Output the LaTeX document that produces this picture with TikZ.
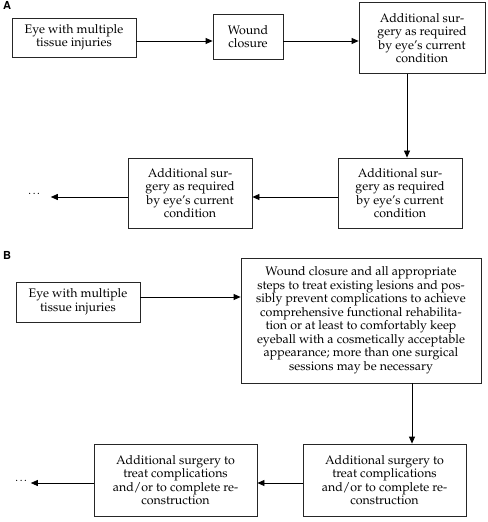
\documentclass[tikz,border=0pt]{standalone}
\usepackage[T1]{fontenc}
\usepackage{mathpazo}
\usepackage[scaled=0.92]{helvet}
\usetikzlibrary{arrows.meta}
\begin{document}
\begin{tikzpicture}[x=1bp,y=-1bp,
  box/.style={draw=black!85, line width=0.8bp, align=center, inner sep=0pt,
    font=\fontsize{12.4bp}{13.5bp}\selectfont},
  arr/.style={line width=0.8bp, -{Triangle[length=7bp,width=6bp]}},
  lab/.style={font=\sffamily\bfseries\fontsize{12bp}{12bp}\selectfont, inner sep=0pt},
  dotsn/.style={font=\fontsize{11bp}{12bp}\selectfont, inner sep=0pt}]
\useasboundingbox (0,0) rectangle (488,522);
% Panel A
\node[lab] (LA) at (7,6) {A};
\node[box, minimum width=124bp, minimum height=39bp] (A1) at (74,37.5)
  {Eye with multiple\\tissue injuries};
\node[box, minimum width=70bp, minimum height=45bp] (A2) at (248,36.5)
  {Wound\\closure};
\node[box, minimum width=126bp, minimum height=71bp] (A3) at (422,38)
  {Additional sur-\\gery as required\\by eye's current\\condition};
\node[box, minimum width=124bp, minimum height=70bp] (A4) at (400,193)
  {Additional sur-\\gery as required\\by eye's current\\condition};
\node[box, minimum width=124bp, minimum height=70bp] (A5) at (190,193)
  {Additional sur-\\gery as required\\by eye's current\\condition};
\node[dotsn] (DA) at (35,194) {\dots};
\draw[arr] ([yshift=-3.5bp]A1.east) -- ([yshift=-3.5bp]A1.east -| A2.west);
\draw[arr] ([yshift=-4.5bp]A2.east) -- ([yshift=-4.5bp]A2.east -| A3.west);
\draw[arr] ([xshift=-15bp]A3.south) -- ([xshift=-15bp]A3.south |- A4.north);
\draw[arr] ([yshift=-4bp]A4.west) -- ([yshift=-4bp]A4.west -| A5.east);
\draw[arr] ([yshift=-4bp]A5.west) -- ([yshift=-4bp,xshift=9bp]A5.west -| DA.east);
% Panel B
\node[lab] (LB) at (7,256) {B};
\node[box, minimum width=124bp, minimum height=40bp] (B1) at (78,302)
  {Eye with multiple\\tissue injuries};
\node[box, minimum width=240bp, minimum height=125bp] (B2) at (361,320.5)
  {Wound closure and all appropriate\\steps to treat existing lesions and pos-\\sibly prevent complications to achieve\\comprehensive functional rehabilita-\\tion or at least to comfortably keep\\eyeball with a cosmetically acceptable\\appearance; more than one surgical\\sessions may be necessary};
\node[box, minimum width=163bp, minimum height=72bp] (B3) at (384.5,480)
  {Additional surgery to\\treat complications\\and/or to complete re-\\construction};
\node[box, minimum width=163bp, minimum height=72bp] (B4) at (175.5,480)
  {Additional surgery to\\treat complications\\and/or to complete re-\\construction};
\node[dotsn] (DB) at (22,481) {\dots};
\draw[arr] ([yshift=5bp]B1.east) -- ([yshift=5bp]B1.east -| B2.west);
\draw[arr] ([xshift=51bp]B2.south) -- ([xshift=51bp]B2.south |- B3.north);
\draw[arr] ([yshift=-3bp]B3.west) -- ([yshift=-3bp]B3.west -| B4.east);
\draw[arr] ([yshift=-3bp]B4.west) -- ([yshift=-3bp,xshift=2bp]B4.west -| DB.east);
\end{tikzpicture}
\end{document}
